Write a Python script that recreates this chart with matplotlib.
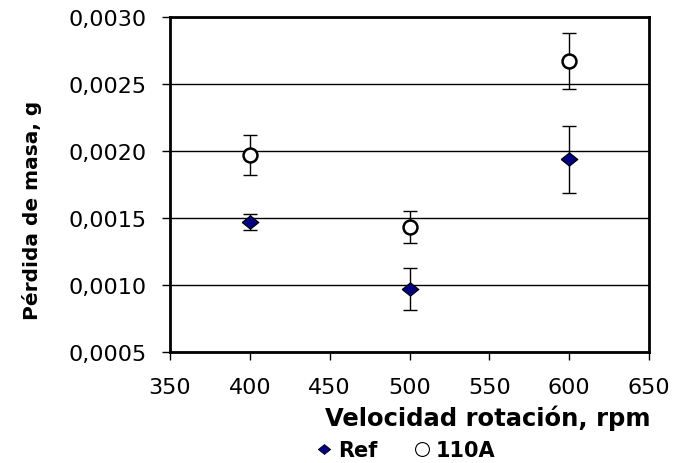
import matplotlib.pyplot as plt
from matplotlib.ticker import FuncFormatter, MultipleLocator
from matplotlib.lines import Line2D

# rotation speed (rpm) and mass loss (g)
rpm = [400, 500, 600]
ref_loss = [0.00147, 0.00097, 0.00194]
ref_err = [0.00006, 0.00016, 0.00025]
a110_loss = [0.00197, 0.00143, 0.00267]
a110_err = [0.00015, 0.00012, 0.00021]
labels = ['Ref', '110A']

plt.rcParams['font.family'] = ['DejaVu Sans']

# wide diamond like the spreadsheet marker
diamond = [(-1, 0), (0, 0.8), (1, 0), (0, -0.8), (-1, 0)]

fig = plt.figure(figsize=(6.73, 4.64), dpi=100)
ax = fig.add_axes([170 / 673, 1 - 353 / 464, 479 / 673, 335 / 464])

ax.errorbar(rpm, ref_loss, yerr=ref_err, fmt='none', ecolor='black',
            elinewidth=1, capsize=5, capthick=1, zorder=3)
ax.plot(rpm, ref_loss, ls='', marker=diamond, ms=12, mfc='#000080', mec='black',
        mew=0.8, zorder=4)
ax.errorbar(rpm, a110_loss, yerr=a110_err, fmt='none', ecolor='black',
            elinewidth=1, capsize=5, capthick=1, zorder=3)
ax.plot(rpm, a110_loss, ls='', marker='o', ms=10, mfc='white', mec='black',
        mew=1.8, zorder=4)

ax.set_xlim(350, 650)
ax.set_ylim(0.0005, 0.0030)
ax.xaxis.set_major_locator(MultipleLocator(50))
ax.yaxis.set_major_locator(MultipleLocator(0.0005))
ax.yaxis.set_major_formatter(FuncFormatter(lambda v, p: f'{v:.4f}'.replace('.', ',')))
ax.grid(axis='y', color='black', lw=1)
ax.set_axisbelow(True)

for side in ['left', 'bottom', 'right', 'top']:
    ax.spines[side].set_color('black')
    ax.spines[side].set_linewidth(2)

ax.tick_params(axis='both', direction='out', length=6, width=1, labelsize=16,
               colors='black')
ax.tick_params(axis='y', pad=11)
ax.tick_params(axis='x', pad=12)

# the original labels sit off-centre
ax.set_xlabel('Velocidad rotación, rpm', fontsize=17.5, fontweight='bold')
ax.xaxis.set_label_coords((488 - 170) / 479, -(406 - 353) / 335)
ax.set_ylabel('Pérdida de masa, g', fontsize=14.5, fontweight='bold')
ax.yaxis.set_label_coords((42 - 170) / 479, (353 - 210) / 335)

h = [Line2D([], [], ls='', marker=diamond, ms=9, mfc='#000080', mec='black', mew=0.5),
     Line2D([], [], ls='', marker='o', ms=10, mfc='white', mec='black', mew=0.8)]
fig.legend(h, labels, loc='center', bbox_to_anchor=(406 / 673, 1 - 451 / 464),
           ncol=2, frameon=False, prop={'size': 15, 'weight': 'bold'},
           handlelength=0.7, handletextpad=0.3, columnspacing=1.8,
           borderpad=0, borderaxespad=0)

fig.savefig('out.png', dpi=100)
